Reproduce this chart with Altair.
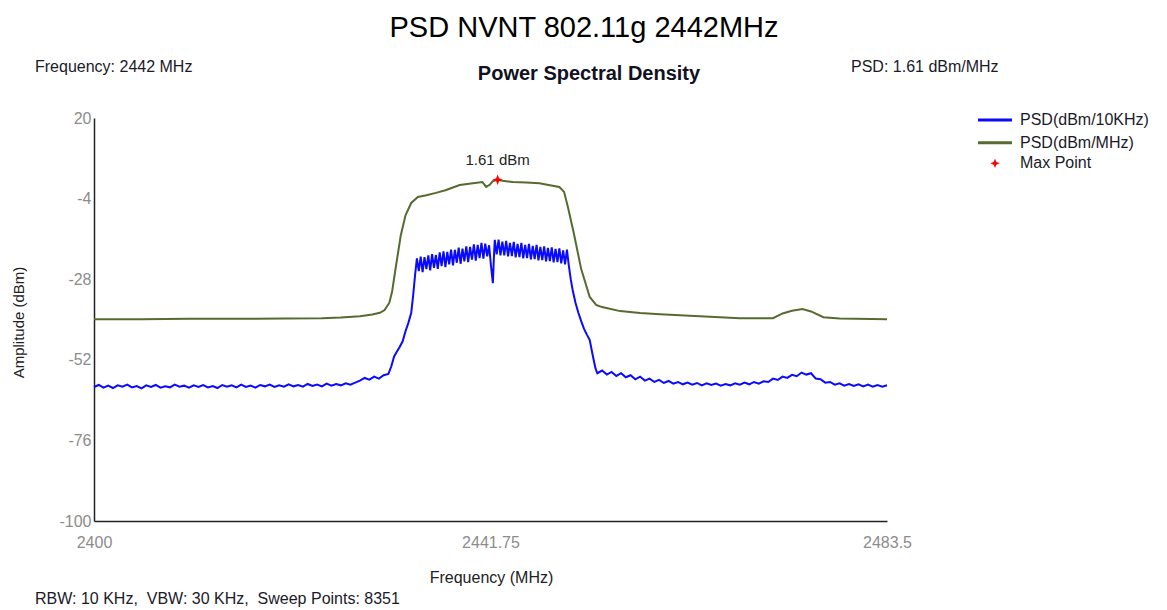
import altair as alt
import pandas as pd

# ---------------- data ----------------
blue_freq = [
    2400.0, 2400.5, 2401.0, 2401.5, 2402.0, 2402.5, 2403.0, 2403.5, 2404.0, 2404.5,
    2405.0, 2405.5, 2406.0, 2406.5, 2407.0, 2407.5, 2408.0, 2408.5, 2409.0, 2409.5,
    2410.0, 2410.5, 2411.0, 2411.5, 2412.0, 2412.5, 2413.0, 2413.5, 2414.0, 2414.5,
    2415.0, 2415.5, 2416.0, 2416.5, 2417.0, 2417.5, 2418.0, 2418.5, 2419.0, 2419.5,
    2420.0, 2420.5, 2421.0, 2421.5, 2422.0, 2422.5, 2423.0, 2423.5, 2424.0, 2424.5,
    2425.0, 2425.5, 2426.0, 2426.5, 2427.0, 2427.5, 2428.0, 2428.5, 2429.0, 2429.5,
    2430.0, 2430.5, 2431.0,
    2431.3, 2431.6, 2431.9, 2432.2, 2432.5, 2432.8, 2433.1, 2433.4, 2433.6, 2433.8,
    2434.0, 2434.2, 2434.4, 2434.6, 2434.8, 2435.0, 2435.2, 2435.4, 2435.6, 2435.8,
    2436.0, 2436.2, 2436.4, 2436.6, 2436.8, 2437.0, 2437.2, 2437.4, 2437.6, 2437.8,
    2438.0, 2438.2, 2438.4, 2438.6, 2438.8, 2439.0, 2439.2, 2439.4, 2439.6, 2439.8,
    2440.0, 2440.2, 2440.4, 2440.6, 2440.8, 2441.0, 2441.2, 2441.4, 2441.6, 2441.8,
    2442.0, 2442.1, 2442.2, 2442.4, 2442.6, 2442.8, 2443.0, 2443.2, 2443.4, 2443.6,
    2443.8, 2444.0, 2444.2, 2444.4, 2444.6, 2444.8, 2445.0, 2445.2, 2445.4, 2445.6,
    2445.8, 2446.0, 2446.2, 2446.4, 2446.6, 2446.8, 2447.0, 2447.2, 2447.4, 2447.6,
    2447.8, 2448.0, 2448.2, 2448.4, 2448.6, 2448.8, 2449.0, 2449.2, 2449.4, 2449.6,
    2449.8, 2450.0,
    2450.2, 2450.4, 2450.7, 2451.0, 2451.3, 2451.6, 2451.9, 2452.2, 2452.5, 2452.8,
    2453.0,
    2453.5, 2454.0, 2454.5, 2455.0, 2455.5, 2456.0, 2456.5, 2457.0, 2457.5, 2458.0,
    2458.5, 2459.0, 2459.5, 2460.0, 2460.5, 2461.0, 2461.5, 2462.0, 2462.5, 2463.0,
    2463.5, 2464.0, 2464.5, 2465.0, 2465.5, 2466.0, 2466.5, 2467.0, 2467.5, 2468.0,
    2468.5, 2469.0, 2469.5, 2470.0, 2470.5, 2471.0, 2471.5, 2472.0, 2472.5, 2473.0,
    2473.5, 2474.0, 2474.5, 2475.0, 2475.5, 2476.0, 2476.5, 2477.0, 2477.5, 2478.0,
    2478.5, 2479.0, 2479.5, 2480.0, 2480.5, 2481.0, 2481.5, 2482.0, 2482.5, 2483.0,
    2483.5,
]
blue_dbm = [
    -60.1, -59.5, -60.3, -59.7, -60.4, -59.6, -60.0, -59.4, -60.2, -59.8,
    -60.5, -59.6, -60.1, -59.5, -60.3, -59.9, -60.2, -59.4, -60.0, -59.7,
    -60.3, -59.6, -60.1, -59.5, -60.2, -59.8, -60.4, -59.5, -60.0, -59.6,
    -60.2, -59.4, -60.1, -59.7, -60.3, -59.5, -59.9, -59.4, -60.1, -59.6,
    -60.0, -59.3, -59.9, -59.5, -60.0, -59.2, -59.8, -59.4, -59.9, -59.1,
    -59.7, -59.2, -59.6, -59.0, -59.4, -58.8, -58.2, -57.4, -57.9, -57.0,
    -57.6, -56.6, -56.2,
    -54.0, -51.0, -49.5, -48.1, -46.5, -43.5, -41.0, -38.1, -33.0, -27.0,
    -21.8, -25.6, -21.3, -25.9, -21.4, -25.0, -20.9, -25.4, -20.5, -24.6,
    -20.8, -24.9, -20.0, -24.1, -19.7, -24.4, -19.9, -23.6, -19.2, -23.9,
    -19.3, -23.1, -18.6, -23.4, -18.9, -22.7, -18.2, -22.9, -18.4, -22.2,
    -17.6, -22.5, -17.8, -21.7, -17.2, -21.9, -17.4, -21.2, -17.9, -24.0,
    -29.2, -22.0, -16.3, -20.6, -16.2, -20.9, -16.8, -20.9, -16.6, -21.2,
    -17.2, -21.1, -16.9, -21.5, -17.5, -21.4, -17.2, -21.8, -17.8, -21.7,
    -17.5, -22.1, -18.1, -22.0, -17.8, -22.4, -18.4, -22.3, -18.2, -22.7,
    -18.7, -22.6, -18.5, -23.0, -19.0, -22.9, -18.8, -23.3, -19.4, -23.6,
    -19.2, -24.0,
    -28.0, -31.2, -35.0, -38.0, -40.5, -42.8, -44.5, -46.1, -50.5, -54.5,
    -56.0,
    -55.2, -56.4, -55.6, -56.8, -56.0, -57.2, -56.6, -57.8, -57.0, -58.2,
    -57.6, -58.6, -58.0, -58.9, -58.3, -59.1, -58.6, -59.3, -58.8, -59.4,
    -58.9, -59.6, -59.0, -59.5, -59.1, -59.7, -59.2, -59.6, -59.0, -59.4,
    -58.8, -59.3, -58.6, -59.1, -58.4, -58.6, -57.6, -58.0, -57.0, -57.4,
    -56.5, -56.9, -55.8, -56.4, -56.0, -57.6, -57.8, -58.8, -58.6, -59.4,
    -59.0, -59.7, -59.2, -59.8, -59.3, -59.9, -59.4, -60.0, -59.5, -60.0,
    -59.6,
]

green_freq = [
    2400.0, 2405.0, 2410.0, 2415.0, 2420.0, 2424.0, 2426.0, 2428.0, 2429.3, 2430.1,
    2430.6, 2431.1, 2431.4, 2431.8, 2432.3, 2432.8, 2433.4, 2434.1, 2435.0, 2436.0,
    2437.0, 2438.5, 2439.5, 2440.9, 2441.3, 2441.7, 2442.0, 2442.5, 2443.0, 2444.1,
    2445.5, 2446.9, 2448.0, 2449.0, 2449.5, 2449.9, 2450.5, 2451.3, 2452.2, 2452.9,
    2453.5, 2455.4, 2457.5, 2459.6, 2463.8, 2468.0, 2471.5, 2472.5, 2473.5, 2474.6,
    2475.5, 2476.8, 2478.5, 2483.5,
]
green_dbm = [
    -39.9, -39.9, -39.8, -39.8, -39.7, -39.6, -39.4, -39.0, -38.5, -38.0,
    -37.2, -35.0, -31.5, -24.0, -15.0, -9.0, -5.3, -3.5, -3.0, -2.3,
    -1.5, 0.05, 0.4, 0.94, -0.5, 0.2, 1.2, 1.61, 1.3, 0.94,
    0.8, 0.6, 0.0, -0.55, -2.0, -6.5, -14.0, -25.0, -33.3, -35.7,
    -36.3, -37.5, -38.1, -38.4, -39.0, -39.6, -39.6, -38.2, -37.4, -36.9,
    -37.6, -39.3, -39.7, -39.9,
]

max_freq = [2442.5]
max_dbm = [1.61]
max_label = ["1.61 dBm"]

x_ticks = [2400, 2441.75, 2483.5]
y_ticks = [20, -4, -28, -52, -76, -100]

legend_labels = ["PSD(dBm/10KHz)", "PSD(dBm/MHz)", "Max Point"]
legend_colors = ["#0a0aff", "#556b2f", "#ff0000"]

title_text = "PSD NVNT 802.11g 2442MHz"
sub_title = "Power Spectral Density"
freq_text = "Frequency: 2442 MHz"
psd_text = "PSD: 1.61 dBm/MHz"
rbw_text = "RBW: 10 KHz,\u00a0 VBW: 30 KHz,\u00a0 Sweep Points: 8351"

# ---------------- chart ----------------
W, H = 793, 403
FONT = "Liberation Sans"
STAR = "M0,-1L0.28,-0.28L1,0L0.28,0.28L0,1L-0.28,0.28L-1,0L-0.28,-0.28Z"

blue_df = pd.DataFrame({"freq": blue_freq, "dbm": blue_dbm})
green_df = pd.DataFrame({"freq": green_freq, "dbm": green_dbm})
max_df = pd.DataFrame({"freq": max_freq, "dbm": max_dbm, "label": max_label})

x_enc = alt.X(
    "freq:Q",
    scale=alt.Scale(domain=[2400, 2483.5], nice=False, zero=False),
    axis=alt.Axis(
        values=x_ticks, labelExpr="'' + datum.value", title="Frequency (MHz)",
        grid=False, ticks=False, labelFlush=False, labelOverlap=False,
        labelPadding=13, labelFontSize=16, labelColor="#8c8c8c", labelFont=FONT,
        domainColor="#222222", domainWidth=1.5,
        titleFont=FONT, titleFontSize=16, titleFontWeight="normal", titleColor="#222222",
        titleX=397, titleY=56, titleBaseline="middle", titleAlign="center",
    ),
)
y_enc = alt.Y(
    "dbm:Q",
    scale=alt.Scale(domain=[-100, 20], nice=False, zero=False),
    axis=alt.Axis(
        values=y_ticks, labelExpr="'' + datum.value", title="Amplitude (dBm)",
        grid=False, ticks=False, labelPadding=3, labelFontSize=16,
        labelColor="#8c8c8c", labelFont=FONT,
        domainColor="#222222", domainWidth=1.5,
        titleFont=FONT, titleFontSize=15, titleFontWeight="normal", titleColor="#222222",
        titleX=-76, titleY=204, titleAngle=-90, titleBaseline="middle", titleAlign="center",
    ),
)

green = alt.Chart(green_df).mark_line(color="#556b2f", strokeWidth=2).encode(x=x_enc, y=y_enc)
blue = alt.Chart(blue_df).mark_line(color="#0a0aff", strokeWidth=2).encode(x="freq:Q", y="dbm:Q")
star = alt.Chart(max_df).mark_point(shape=STAR, filled=True, color="#ff0000", size=110, opacity=1).encode(
    x="freq:Q", y="dbm:Q")
star_lbl = alt.Chart(max_df).mark_text(font=FONT, fontSize=15, color="#222222", dy=-20, baseline="middle").encode(
    x="freq:Q", y="dbm:Q", text="label:N")


def txt(s, x, y, size=16, weight="normal", align="left", color="#1a1a2a"):
    return alt.Chart(pd.DataFrame({"t": [s]})).mark_text(
        font=FONT, fontSize=size, fontWeight=weight, align=align, baseline="middle", color=color
    ).encode(x=alt.value(x), y=alt.value(y), text="t:N")


layers = [green, blue, star, star_lbl,
          txt(title_text, 490, -90, size=29, align="center", color="#000000"),
          txt(freq_text, -59, -51),
          txt(sub_title, 495, -44, size=20, weight="bold", align="center", color="#111122"),
          txt(psd_text, 757, -51),
          txt(rbw_text, -59, 481, size=16)]

# legend rows
rows_y = [2, 24.7, 45.3]
for i, lab in enumerate(legend_labels[:2]):
    layers.append(
        alt.Chart(pd.DataFrame({"t": [lab]})).mark_rule(color=legend_colors[i], strokeWidth=3).encode(
            x=alt.value(884), x2=alt.value(918), y=alt.value(rows_y[i]))
    )
layers.append(
    alt.Chart(pd.DataFrame({"t": [legend_labels[2]]})).mark_point(
        shape=STAR, filled=True, color=legend_colors[2], size=90, opacity=1).encode(
        x=alt.value(901), y=alt.value(rows_y[2]))
)
for i, lab in enumerate(legend_labels):
    layers.append(txt(lab, 926, rows_y[i], size=16, color="#1a1a2a"))

chart = alt.layer(*layers).properties(
    width=W, height=H,
    autosize=alt.AutoSizeParams(type="none"),
    padding={"left": 86, "top": 110, "right": 271, "bottom": 89},
).configure(font=FONT, background="white").configure_view(stroke=None, strokeWidth=0)

chart.save("out.html", embed_options={"renderer": "svg", "actions": False})
